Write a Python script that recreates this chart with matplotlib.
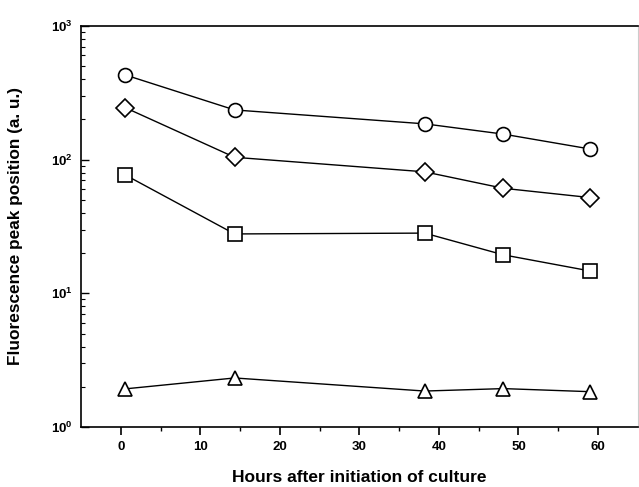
import matplotlib.pyplot as plt
from matplotlib.ticker import LogLocator, NullFormatter, FixedLocator

plt.rcParams['font.family'] = ['Liberation Sans', 'DejaVu Sans']

# culture time points (hours)
hours = [0.5, 14.3, 38.2, 48.1, 59.0]

circles = [430, 235, 185, 155, 120]
diamonds = [245, 104, 81, 61, 52]
squares = [77, 27.8, 28.2, 19.4, 14.7]
triangles = [1.93, 2.33, 1.86, 1.94, 1.84]

fig = plt.figure(figsize=(6.39, 4.87), dpi=100)
ax = fig.add_axes([0.127, 0.123, 0.871, 0.824])

style = dict(color='black', lw=1.0, mfc='white', mec='black', mew=1.2)
ax.plot(hours, circles, marker='o', ms=10, **style)
ax.plot(hours, diamonds, marker='D', ms=9, **style)
ax.plot(hours, squares, marker='s', ms=10, **style)
ax.plot(hours, triangles, marker='^', ms=10, **style)

ax.set_yscale('log')
ax.set_ylim(1, 1000)
ax.set_xlim(-5, 65)

ax.xaxis.set_major_locator(FixedLocator([0, 10, 20, 30, 40, 50, 60]))
ax.xaxis.set_minor_locator(FixedLocator([5, 15, 25, 35, 45, 55]))
ax.yaxis.set_major_locator(LogLocator(base=10, numticks=5))
ax.yaxis.set_minor_locator(LogLocator(base=10, subs=range(2, 10), numticks=20))
ax.yaxis.set_minor_formatter(NullFormatter())

ax.tick_params(axis='x', which='major', direction='out', length=6, width=1.2,
               labelsize=9.5, pad=4)
ax.tick_params(axis='x', which='minor', direction='out', length=3, width=1.0)
ax.tick_params(axis='y', which='major', direction='in', length=6, width=1.0,
               labelsize=9.5, pad=6)
ax.tick_params(axis='y', which='minor', direction='in', length=3, width=0.8)
for lbl in ax.get_xticklabels() + ax.get_yticklabels():
    lbl.set_fontweight('bold')

for side in ['left', 'bottom', 'top']:
    ax.spines[side].set_linewidth(1.2)
ax.spines['right'].set_color('#cccccc')

ax.set_xlabel('Hours after initiation of culture', fontsize=12.5,
              fontweight='bold', labelpad=12)
ax.set_ylabel('Fluorescence peak position (a. u.)', fontsize=12.4,
              fontweight='bold', labelpad=20)

fig.savefig('out.png', dpi=100)
